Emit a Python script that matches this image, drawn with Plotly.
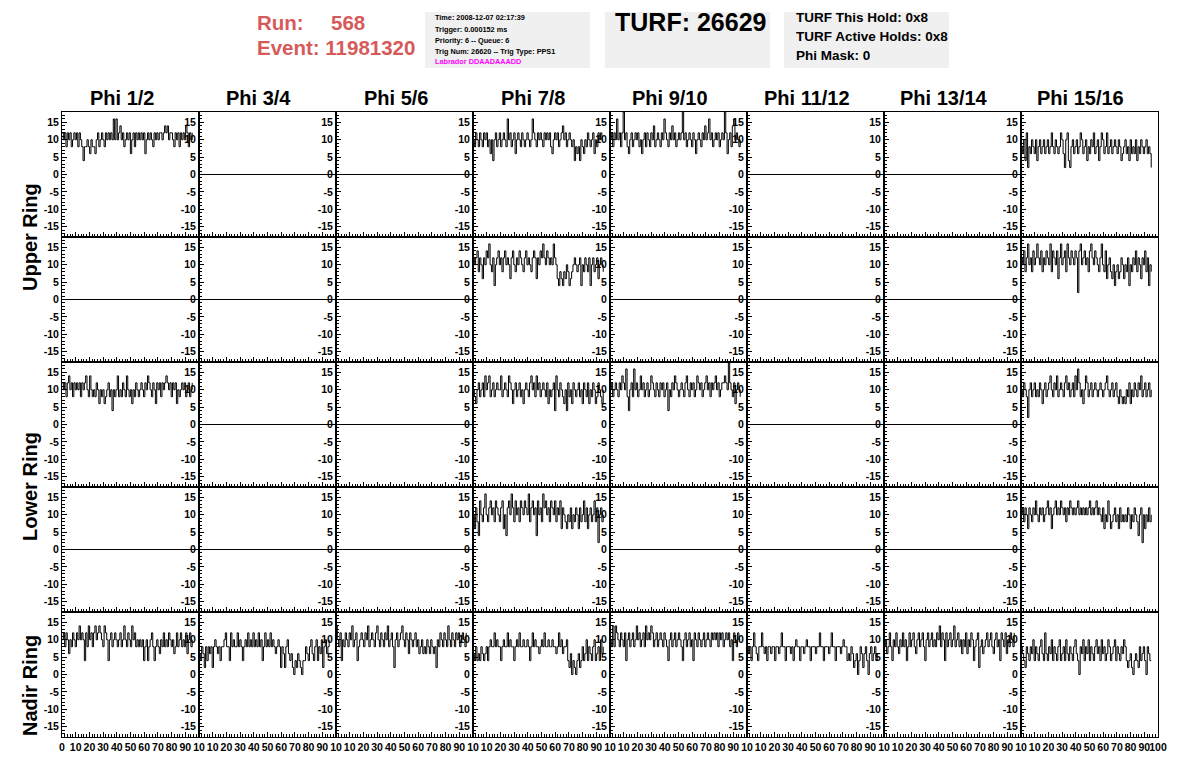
import plotly.graph_objects as go
from plotly.subplots import make_subplots

# ---------------- data ----------------
PHI_LABELS = ["Phi 1/2", "Phi 3/4", "Phi 5/6", "Phi 7/8",
              "Phi 9/10", "Phi 11/12", "Phi 13/14", "Phi 15/16"]
RING_LABELS = ["Upper Ring", "Lower Ring", "Nadir Ring"]
X_TICKS = [0, 10, 20, 30, 40, 50, 60, 70, 80, 90, 100]
Y_TICKS = [-15, -10, -5, 0, 5, 10, 15]
Y_TICK_TEXT = ["-15", "-10", "-5", "0", "5", "10", "15"]
SAMPLE_DT = 0.96          # time between samples
FLAT_TIME = [0, 100]      # channels with no signal
FLAT_VALUES = [0, 0]

RUN = "568"
EVENT = "11981320"
TURF = "26629"
INFO_LINES = ["Time: 2008-12-07 02:17:39", "Trigger: 0.000152 ms",
              "Priority: 6 -- Queue: 6", "Trig Num: 26620 -- Trig Type: PPS1"]
LABRADOR = "Labrador DDAADAAADD"
TURF_LINES = ["TURF This Hold: 0x8", "TURF Active Holds: 0x8", "Phi Mask: 0"]

# Upper ring, first row
U1_PHI12 = [12,10,12,8,12,10,12,8,10,12,10,12,8,12,10,8,4,8,8,10,
            8,6,10,8,8,6,10,12,8,10,12,10,8,12,10,12,10,12,10,16,
            10,16,10,12,14,10,12,8,10,12,10,12,6,10,12,8,12,10,12,10,
            12,10,12,6,10,12,10,12,10,8,12,10,12,10,12,12,10,12,14,12,
            14,10,12,12,10,8,12,10,12,8,12,10,12,10,14,12,8,12,10,12]
U1_PHI78 = [10,8,12,10,8,12,10,8,12,10,12,8,10,6,10,4,10,12,8,10,
            12,8,10,12,10,8,16,10,12,8,10,12,6,10,12,10,8,12,10,8,
            10,12,10,8,10,16,12,10,8,12,10,12,10,8,12,10,12,10,12,8,
            6,10,12,10,12,8,10,12,14,10,12,8,10,12,10,8,10,4,8,6,
            8,4,10,8,6,10,8,12,10,8,10,12,6,10,8,12,10,12,10,10]
U1_PHI910 = [10,12,8,12,10,16,10,12,8,12,18,10,12,8,6,10,12,8,10,12,
             10,12,8,10,6,10,12,8,12,10,8,12,10,14,8,10,12,10,8,12,
             10,16,12,10,8,12,10,14,10,12,8,10,12,10,12,18,10,12,8,10,
             12,10,8,12,10,6,10,12,10,8,12,10,14,10,12,16,10,12,8,10,
             12,10,12,8,10,12,10,18,12,6,10,12,8,14,16,10,12,10,8,10]
U1_PHI1516 = [8,6,10,4,12,2,8,6,10,8,6,10,4,8,10,6,8,10,6,8,
              10,6,8,12,8,6,10,8,6,8,12,10,6,2,10,12,4,2,8,10,
              6,8,10,6,8,12,10,6,8,10,4,8,6,10,8,12,6,8,10,4,
              8,12,10,6,8,12,6,8,10,6,8,10,8,6,10,8,4,6,8,10,
              6,8,4,10,6,8,6,10,4,8,6,10,8,6,8,10,6,8,6,2]
# Upper ring, second row
U2_PHI78 = [12,10,12,14,8,12,10,6,12,10,14,12,16,10,8,12,4,10,12,14,
            10,12,8,12,14,10,12,10,6,12,14,10,8,12,10,14,12,10,8,12,
            14,10,12,10,8,12,14,12,6,12,10,14,12,16,12,10,14,12,10,12,
            10,16,12,10,6,4,8,6,4,8,6,10,8,4,6,8,10,12,10,8,
            10,12,4,10,8,12,10,8,12,4,10,12,8,10,12,6,10,12,10,8]
U2_PHI1516 = [12,10,14,8,12,16,10,12,8,14,10,12,16,12,10,14,8,12,10,14,
              12,10,16,8,14,12,10,14,6,12,16,10,12,14,8,16,12,10,14,12,
              10,14,12,2,14,16,10,12,14,10,12,8,14,16,12,10,14,12,10,8,
              12,16,10,8,14,6,10,12,8,6,10,4,8,10,6,8,12,10,6,10,
              8,12,4,10,8,12,10,14,8,12,10,6,12,10,14,8,12,4,10,8]
# Lower ring, first row
L1_PHI12 = [12,10,12,8,12,14,10,12,8,12,10,12,10,12,8,12,10,12,14,10,
            8,14,10,8,10,8,12,10,6,10,8,10,6,8,10,12,8,10,4,10,
            8,10,14,8,10,8,12,10,8,14,10,8,10,6,10,8,12,10,8,10,
            12,10,8,12,10,14,12,10,8,12,10,6,12,10,12,8,12,10,12,14,
            12,10,12,8,12,10,12,6,10,8,10,12,10,12,8,10,12,8,10,12]
L1_PHI78 = [10,8,6,10,12,8,10,12,8,14,10,12,14,8,10,12,8,10,12,10,
            10,14,8,10,12,10,8,14,12,10,6,10,12,8,10,12,8,10,6,10,
            12,10,8,12,14,10,12,8,14,10,12,8,10,12,10,8,12,6,10,8,
            10,12,4,14,10,8,12,10,8,6,10,4,12,8,10,6,12,10,8,10,
            12,8,10,6,12,10,8,12,6,10,8,12,10,6,8,12,10,8,6,10]
L1_PHI910 = [10,12,8,10,12,10,8,12,10,14,12,10,16,8,4,10,12,8,16,10,
             12,8,10,14,10,12,8,10,12,8,10,14,12,10,8,12,10,8,12,10,
             12,8,10,12,4,10,8,12,10,14,12,10,8,10,12,10,8,12,14,10,
             8,12,10,12,8,10,14,12,10,12,8,10,12,14,10,12,8,12,10,12,
             14,10,12,8,10,12,12,14,12,10,18,12,10,8,12,6,10,12,10,8]
L1_PHI1516 = [10,8,12,10,8,2,10,12,8,10,12,8,10,8,12,10,6,10,12,8,
              10,12,14,10,8,12,10,14,8,10,12,10,8,12,14,10,12,8,10,12,
              8,14,10,16,12,8,10,6,10,14,12,8,10,12,8,10,12,10,8,10,
              12,10,8,10,12,14,10,8,10,12,8,10,12,8,6,10,8,6,8,6,
              10,8,12,6,10,8,12,10,8,12,10,14,8,10,12,8,10,12,8,10]
# Lower ring, second row
L2_PHI78 = [10,6,12,8,4,14,10,8,12,16,10,8,12,14,10,12,8,14,12,10,
            8,12,14,6,10,4,12,14,10,16,12,8,14,10,12,8,14,12,10,14,
            12,10,16,8,12,14,10,12,4,14,10,12,8,16,12,14,10,12,8,14,
            12,10,14,8,12,10,14,6,12,10,8,6,10,8,12,6,10,8,12,10,
            6,12,8,10,14,8,12,6,10,12,8,10,14,8,12,2,10,12,8,10]
L2_PHI1516 = [10,12,8,12,10,6,12,10,8,12,10,14,10,8,12,10,12,8,10,12,
              14,10,12,6,10,12,14,10,12,10,14,12,10,12,8,12,10,14,12,10,
              12,10,12,14,10,12,10,12,10,12,10,12,14,10,12,10,12,14,10,12,
              10,8,12,6,10,8,14,10,6,8,10,12,8,10,6,12,8,10,8,10,
              8,12,10,6,10,8,12,10,8,4,10,12,2,10,6,10,8,12,8,10]
# Nadir ring
N_PHI12 = [10,12,8,12,10,6,10,8,12,10,8,12,10,14,10,12,10,4,12,8,
           14,10,12,8,12,14,10,12,14,12,10,8,14,12,10,4,10,12,8,10,
           12,10,8,10,12,8,10,14,10,8,12,10,8,14,10,12,8,10,8,10,
           8,10,4,8,10,4,8,10,12,8,4,8,10,8,6,10,8,12,8,10,
           8,12,10,8,10,6,8,12,8,10,12,8,10,8,12,6,10,12,8,10]
N_PHI34 = [6,4,8,6,2,8,4,8,6,8,2,8,10,8,6,8,4,8,8,10,
           12,8,8,4,12,8,10,8,8,12,8,10,8,4,8,10,8,12,8,10,
           8,12,8,10,8,12,8,10,4,8,12,8,10,8,12,8,10,8,6,8,
           10,8,2,8,6,2,8,10,6,4,6,2,0,4,2,6,4,2,0,4,
           4,8,6,4,8,10,6,4,8,10,4,8,6,10,2,8,10,6,8,10]
N_PHI56 = [14,10,8,12,4,10,8,12,10,8,12,10,14,8,10,12,4,8,10,12,
           10,8,12,10,14,8,10,12,10,8,12,14,10,8,12,10,8,12,10,14,
           8,10,12,8,2,10,12,8,10,12,14,10,8,12,10,6,12,10,8,10,
           12,8,10,6,8,10,6,8,6,10,8,6,10,8,6,8,2,10,8,12,
           10,8,12,10,8,14,10,8,12,10,8,12,10,12,8,10,12,10,8,12]
N_PHI78 = [6,4,8,4,6,4,8,6,4,6,8,4,8,10,8,8,12,8,10,8,
           8,4,8,10,8,8,12,8,10,8,8,4,8,10,8,12,8,8,10,8,
           8,10,8,4,8,12,8,10,8,8,6,8,10,8,12,8,8,10,8,8,
           10,8,8,6,8,12,8,10,6,8,8,10,4,2,6,0,4,2,0,4,
           6,2,4,8,4,6,10,4,8,6,4,8,10,4,6,8,4,10,6,8]
N_PHI910 = [10,8,14,8,14,12,10,8,12,10,8,12,4,10,12,8,10,12,8,10,
            14,10,12,8,10,12,8,14,10,12,10,14,12,8,10,12,8,10,12,10,
            8,12,10,8,4,10,12,8,10,12,8,10,12,10,8,4,10,12,8,10,
            12,8,10,4,12,10,8,12,10,8,10,12,8,10,12,10,8,12,10,12,
            10,12,8,12,10,12,8,10,12,10,12,8,10,4,12,10,8,12,10,10]
N_PHI1112 = [8,6,8,4,8,12,8,6,4,8,8,12,8,6,8,4,8,8,6,8,
             8,4,8,8,6,8,12,8,8,4,8,8,8,6,8,4,8,10,8,8,
             4,8,8,6,8,10,8,8,4,8,8,8,6,8,8,12,8,8,4,8,
             8,8,6,8,12,8,8,4,8,8,8,6,8,10,8,8,4,6,4,8,
             6,2,4,6,0,4,8,6,2,6,8,4,0,6,8,4,6,8,4,6]
N_PHI1314 = [8,10,6,8,12,8,4,10,8,12,8,6,10,8,12,8,10,4,8,12,
             8,10,12,8,6,10,12,8,10,12,8,4,10,12,8,10,12,8,10,8,
             12,10,14,8,12,10,4,12,8,10,12,8,10,14,8,10,12,8,10,6,
             10,8,12,6,10,8,12,10,4,8,10,12,2,8,10,6,8,10,12,8,
             10,12,8,6,10,12,8,10,4,12,10,8,12,6,10,8,12,10,8,12]
N_PHI1516 = [8,6,4,2,8,6,4,8,6,10,4,8,6,4,8,10,6,4,12,6,
             4,8,6,10,4,8,6,4,8,10,4,6,8,4,10,6,4,8,6,4,
             8,10,6,4,0,8,6,10,4,8,6,10,4,8,6,4,8,10,6,8,
             4,10,6,8,4,6,10,8,4,6,8,10,4,8,6,4,8,6,10,8,
             4,2,4,6,2,0,4,6,4,2,8,4,6,8,4,0,8,6,4,4]

WAVES = {
    (1, 1): U1_PHI12, (1, 4): U1_PHI78, (1, 5): U1_PHI910, (1, 8): U1_PHI1516,
    (2, 4): U2_PHI78, (2, 8): U2_PHI1516,
    (3, 1): L1_PHI12, (3, 4): L1_PHI78, (3, 5): L1_PHI910, (3, 8): L1_PHI1516,
    (4, 4): L2_PHI78, (4, 8): L2_PHI1516,
    (5, 1): N_PHI12, (5, 2): N_PHI34, (5, 3): N_PHI56, (5, 4): N_PHI78,
    (5, 5): N_PHI910, (5, 6): N_PHI1112, (5, 7): N_PHI1314, (5, 8): N_PHI1516,
}

# ---------------- layout geometry ----------------
OFF = 8                      # page body margin of the html page
W, H = 1196 - OFF, 772 - OFF
L, R, T, B = 62 - OFF, 1158 - OFF, 112 - OFF, 737 - OFF
NR, NC = 5, 8
FONT = "Liberation Sans, Arial, Helvetica, sans-serif"
RED = "#d65a5a"


def px(xp):
    return (xp - OFF - L) / (R - L)


def py(yp):
    return (B - (yp - OFF)) / (B - T)


fig = make_subplots(rows=NR, cols=NC, horizontal_spacing=0, vertical_spacing=0)

for r in range(1, NR + 1):
    for c in range(1, NC + 1):
        vals = WAVES.get((r, c))
        if vals is None:
            xs, ys = FLAT_TIME, FLAT_VALUES
        else:
            xs = [i * SAMPLE_DT for i in range(len(vals))]
            ys = vals
        fig.add_trace(go.Scatter(x=xs, y=ys, mode="lines",
                                 line=dict(color="black", width=1, shape="hv"),
                                 showlegend=False, hoverinfo="skip"),
                      row=r, col=c)

tickfont = dict(family=FONT, size=10.5, color="black", weight="bold")
fig.update_xaxes(range=[0, 100], tickmode="array", tickvals=X_TICKS,
                 ticks="inside", ticklen=5, tickcolor="black", tickwidth=1,
                 showline=True, mirror=True, linecolor="black", linewidth=1,
                 showgrid=False, zeroline=False, showticklabels=False,
                 tickfont=tickfont, fixedrange=True, tickangle=0, automargin=False,
                 minor=dict(ticks="inside", ticklen=3, tickcolor="black",
                            tickmode="linear", tick0=0, dtick=2, showgrid=False))
fig.update_yaxes(range=[-18, 18], tickmode="array", tickvals=Y_TICKS,
                 ticktext=Y_TICK_TEXT,
                 ticks="inside", ticklen=5, tickcolor="black", tickwidth=1,
                 showline=True, mirror=True, linecolor="black", linewidth=1,
                 showgrid=False, zeroline=False, showticklabels=True,
                 tickfont=tickfont, fixedrange=True, automargin=False,
                 minor=dict(ticks="inside", ticklen=3, tickcolor="black",
                            tickmode="linear", tick0=0, dtick=1, showgrid=False))

for c in range(1, NC + 1):
    texts = [str(v) for v in X_TICKS]
    if c > 1:
        texts[0] = ""
    if c < NC:
        texts[-1] = "10"
    fig.update_xaxes(showticklabels=True, ticktext=texts, row=NR, col=c)

ann = []
shapes = []
col_w = (1158 - 62) / NC
for c, lab in enumerate(PHI_LABELS):
    xc = 62 + col_w * (c + 0.5) - 9
    ann.append(dict(x=px(xc), y=py(98), xref="paper", yref="paper", text=lab,
                    showarrow=False, xanchor="center", yanchor="middle",
                    font=dict(family=FONT, size=20, color="black", weight="bold")))

for lab, yc in zip(RING_LABELS, [237, 487, 686]):
    ann.append(dict(x=px(30), y=py(yc), xref="paper", yref="paper", text=lab,
                    showarrow=False, xanchor="center", yanchor="middle", textangle=-90,
                    font=dict(family=FONT, size=20, color="black", weight="bold")))

# heavier separators between the ring rows (two pad frames meet there)
for k in range(1, NR):
    shapes.append(dict(type="line", xref="paper", yref="paper",
                       x0=0, x1=1, y0=k / NR, y1=k / NR,
                       line=dict(color="black", width=2)))

# header
red_font = dict(family=FONT, size=20.5, color=RED, weight="bold")
ann.append(dict(x=px(255), y=py(22), xref="paper", yref="paper", text="Run:",
                showarrow=False, xanchor="left", yanchor="middle", font=red_font))
ann.append(dict(x=px(329), y=py(22), xref="paper", yref="paper", text=RUN,
                showarrow=False, xanchor="left", yanchor="middle", font=red_font))
ann.append(dict(x=px(255), y=py(48), xref="paper", yref="paper", text="Event: " + EVENT,
                showarrow=False, xanchor="left", yanchor="middle", font=red_font))

for x0, x1 in [(425, 590), (605, 770), (784, 949)]:
    shapes.append(dict(type="rect", xref="paper", yref="paper",
                       x0=px(x0), x1=px(x1), y0=py(68), y1=py(12),
                       fillcolor="#f0f0f0", line=dict(width=0), layer="below"))

small_font = dict(family=FONT, size=7.3, color="black", weight="bold")
for txt, yc in zip(INFO_LINES, [17.5, 29.3, 40.7, 51.7]):
    ann.append(dict(x=px(433), y=py(yc), xref="paper", yref="paper", text=txt,
                    showarrow=False, xanchor="left", yanchor="middle", font=small_font))
ann.append(dict(x=px(433), y=py(62), xref="paper", yref="paper", text=LABRADOR,
                showarrow=False, xanchor="left", yanchor="middle",
                font=dict(family=FONT, size=7.3, color="#ff00ff", weight="bold")))

ann.append(dict(x=px(613), y=py(22), xref="paper", yref="paper", text="TURF: " + TURF,
                showarrow=False, xanchor="left", yanchor="middle",
                font=dict(family=FONT, size=25, color="black", weight="bold")))
for txt, yc in zip(TURF_LINES, [18, 36, 55]):
    ann.append(dict(x=px(794), y=py(yc), xref="paper", yref="paper", text=txt,
                    showarrow=False, xanchor="left", yanchor="middle",
                    font=dict(family=FONT, size=13.5, color="black", weight="bold")))

fig.update_layout(width=W, height=H,
                  margin=dict(l=L, r=W - R, t=T, b=H - B, pad=0),
                  paper_bgcolor="white", plot_bgcolor="white",
                  annotations=ann, shapes=shapes, showlegend=False,
                  font=dict(family=FONT, color="black"))

fig.write_html("out.html")
